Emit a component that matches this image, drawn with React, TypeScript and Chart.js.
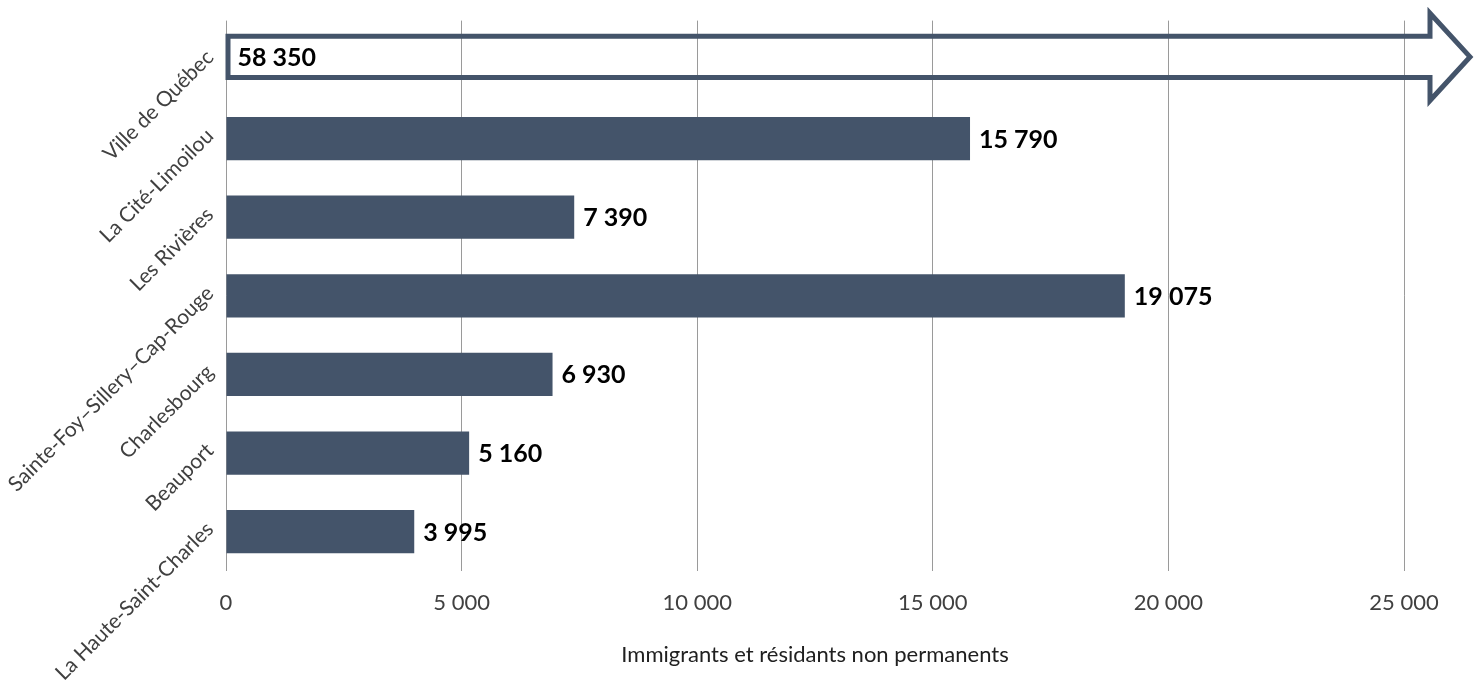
import { useEffect, useRef } from "react";
import { Chart, registerables } from "chart.js";

Chart.register(...registerables);

const categories = [
  "Ville de Québec",
  "La Cité-Limoilou",
  "Les Rivières",
  "Sainte-Foy–Sillery–Cap-Rouge",
  "Charlesbourg",
  "Beauport",
  "La Haute-Saint-Charles",
];
const values = [58350, 15790, 7390, 19075, 6930, 5160, 3995];
const arrowCategory = "Ville de Québec";
const xTickValues = [0, 5000, 10000, 15000, 20000, 25000];
const xMin = 0;
const xMax = 25000;
const axisTitle = "Immigrants et résidants non permanents";

const BAR = "#44546a";
const FONT = "Lato, 'Open Sans', sans-serif";

const fmt = (v: number) => String(v).replace(/\B(?=(\d{3})+(?!\d))/g, " ");

const arrowPlugin = {
  id: "arrowAndLabels",
  afterDatasetsDraw(chart: any) {
    const ctx = chart.ctx;
    const meta = chart.getDatasetMeta(0);
    const area = chart.chartArea;
    ctx.save();
    meta.data.forEach((bar: any, i: number) => {
      const { x, y, base, height } = bar.getProps(["x", "y", "base", "height"], true);
      const label = fmt(values[i]);
      ctx.font = `bold 25px ${FONT}`;
      ctx.fillStyle = "#000";
      ctx.textBaseline = "middle";
      ctx.textAlign = "left";
      if (categories[i] === arrowCategory) {
        const cy = y - 3;
        const half = height / 2 - 1;
        const top = cy - half;
        const bot = cy + half;
        const left = base + 1.5;
        const headX = area.right + 26;
        const tipX = area.right + 66;
        const headHalf = half + 23;
        ctx.beginPath();
        ctx.moveTo(left, top);
        ctx.lineTo(headX, top);
        ctx.lineTo(headX, cy - headHalf);
        ctx.lineTo(tipX, cy);
        ctx.lineTo(headX, cy + headHalf);
        ctx.lineTo(headX, bot);
        ctx.lineTo(left, bot);
        ctx.closePath();
        ctx.lineWidth = 5;
        ctx.strokeStyle = BAR;
        ctx.lineJoin = "miter";
        ctx.stroke();
        ctx.fillStyle = "#000";
        ctx.fillText(label, base + 11, cy + 1);
      } else {
        ctx.fillText(label, x + 9, y + 1);
      }
    });
    ctx.restore();
  },
};

export default function App() {
  const ref = useRef<HTMLCanvasElement | null>(null);
  useEffect(() => {
    document.body.style.margin = "0";
    const canvas = ref.current!;
    const chart = new Chart(canvas, {
      type: "bar",
      data: {
        labels: categories,
        datasets: [
          {
            data: values,
            backgroundColor: categories.map((c) => (c === arrowCategory ? "rgba(0,0,0,0)" : BAR)),
            borderWidth: 0,
            barPercentage: 0.55,
            categoryPercentage: 1,
          },
        ],
      },
      options: {
        indexAxis: "y",
        responsive: false,
        animation: false,
        layout: { padding: { top: 16, right: 77, left: 0, bottom: 0 } },
        plugins: { legend: { display: false }, tooltip: { enabled: false } },
        scales: {
          x: {
            min: xMin,
            max: xMax,
            afterBuildTicks: (s: any) => {
              s.ticks = xTickValues.map((v) => ({ value: v }));
            },
            afterFit: (s: any) => {
              s.height = 113;
            },
            grid: { color: "#9a9a9a", lineWidth: 1, drawTicks: false },
            border: { display: false },
            ticks: {
              padding: 19,
              color: "#404040",
              font: { family: FONT, size: 22 },
              callback: (v: any) => fmt(Number(v)),
            },
            title: {
              display: true,
              text: axisTitle,
              color: "#202020",
              font: { family: FONT, size: 22 },
              padding: { top: 0, bottom: 16 },
            },
          },
          y: {
            grid: { display: false },
            border: { display: false },
            afterFit: (s: any) => {
              s.width = 226;
            },
            ticks: {
              minRotation: 45,
              maxRotation: 45,
              padding: 8,
              labelOffset: -6,
              color: "#404040",
              font: { family: FONT, size: 21 },
            },
          },
        },
      },
      plugins: [arrowPlugin],
    });
    return () => chart.destroy();
  }, []);
  return (
    <div style={{ width: 1481, height: 684 }}>
      <canvas ref={ref} width={1481} height={684} />
    </div>
  );
}
